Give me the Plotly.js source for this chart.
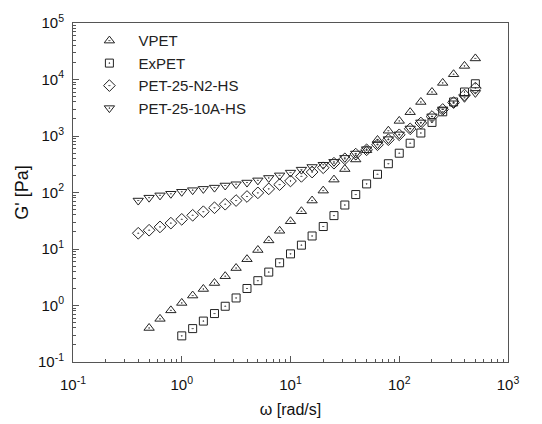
<!DOCTYPE html>
<html>
<head>
<meta charset="utf-8">
<script src="https://cdn.plot.ly/plotly-3.0.1.min.js"></script>
<style>html,body{margin:0;padding:0;background:#fff;}#chart{width:542px;height:424px;}</style>
</head>
<body>
<div id="chart"></div>
<script>
// Angular frequency omega [rad/s]
const omegaAll = [0.398, 0.501, 0.631, 0.794, 1.0, 1.26, 1.58, 2.0, 2.51, 3.16, 3.98, 5.01, 6.31, 7.94, 10, 12.6, 15.8, 20, 25.1, 31.6, 39.8, 50.1, 63.1, 79.4, 100, 126, 158, 200, 251, 316, 398, 501];
const omegaVPET = [0.501, 0.631, 0.794, 1.0, 1.26, 1.58, 2.0, 2.51, 3.16, 3.98, 5.01, 6.31, 7.94, 10, 12.6, 15.8, 20, 25.1, 31.6, 39.8, 50.1, 63.1, 79.4, 100, 126, 158, 200, 251, 316, 398, 501];
const omegaExPET = [1.0, 1.26, 1.58, 2.0, 2.51, 3.16, 3.98, 5.01, 6.31, 7.94, 10, 12.6, 15.8, 20, 25.1, 31.6, 39.8, 50.1, 63.1, 79.4, 100, 126, 158, 200, 251, 316, 398, 501];

// Storage modulus G' [Pa]
const gVPET = [0.40, 0.58, 0.82, 1.11, 1.5, 1.96, 2.5, 3.3, 4.6, 6.6, 9.6, 14.2, 21, 31, 46.6, 72, 108, 169, 260, 384, 560, 850, 1240, 1850, 2640, 4000, 6000, 8700, 12400, 17400, 23600];
const gExPET = [0.29, 0.39, 0.53, 0.72, 0.97, 1.36, 2.0, 2.75, 3.9, 5.7, 8.2, 11.7, 17, 25, 39, 60, 92, 142, 210, 323, 496, 745, 1130, 1740, 2680, 4000, 6000, 8400];
const gN2HS = [19, 21.5, 24.6, 28.7, 33.5, 39.5, 45.7, 53.7, 62, 72, 85, 98.6, 116, 138, 160, 193, 230, 274, 330, 395, 478, 570, 700, 860, 1050, 1340, 1700, 2210, 2950, 3900, 5300, 7050];
const g10AHS = [72, 81, 89, 95, 103, 110, 116, 122, 133, 140, 150, 164, 181, 201, 225, 254, 283, 310, 349, 410, 490, 585, 715, 880, 1070, 1360, 1740, 2230, 2960, 3800, 4750, 5800];

const seriesNames = ["VPET", "ExPET", "PET-25-N2-HS", "PET-25-10A-HS"];

const xTickVals = [0.1, 1, 10, 100, 1000];
const xTickText = ["10<sup>-1</sup>", "10<sup>0</sup>", "10<sup>1</sup>", "10<sup>2</sup>", "10<sup>3</sup>"];
const yTickVals = [0.1, 1, 10, 100, 1000, 10000, 100000];
const yTickText = ["10<sup>-1</sup>", "10<sup>0</sup>", "10<sup>1</sup>", "10<sup>2</sup>", "10<sup>3</sup>", "10<sup>4</sup>", "10<sup>5</sup>"];

const FONT = "Arial, 'Liberation Sans', sans-serif";
const mk = (sym, size) => ({symbol: sym, size: size, color: "#222", line: {color: "#222", width: 1}});

const traces = [
  {x: omegaVPET, y: gVPET, name: seriesNames[0], mode: "markers", type: "scatter", marker: mk("triangle-up-open-dot", 9)},
  {x: omegaExPET, y: gExPET, name: seriesNames[1], mode: "markers", type: "scatter", marker: mk("square-open-dot", 8)},
  {x: omegaAll, y: gN2HS, name: seriesNames[2], mode: "markers", type: "scatter", marker: mk("diamond-open-dot", 9)},
  {x: omegaAll, y: g10AHS, name: seriesNames[3], mode: "markers", type: "scatter", marker: mk("triangle-down-open-dot", 9)}
];

const axisCommon = {
  type: "log",
  showgrid: false,
  zeroline: false,
  showline: true,
  linecolor: "#555",
  linewidth: 1,
  mirror: true,
  ticks: "inside",
  ticklen: 6,
  tickcolor: "#555",
  tickmode: "array",
  tickfont: {family: FONT, size: 15, color: "#111"},
  minor: {ticks: "inside", ticklen: 3, tickcolor: "#555", dtick: "D1", showgrid: false}
};

const layout = {
  width: 542,
  height: 424,
  margin: {l: 73, r: 34, t: 20, b: 62},
  paper_bgcolor: "#fff",
  plot_bgcolor: "#fff",
  font: {family: FONT, color: "#111"},
  showlegend: true,
  legend: {
    x: 0.017, y: 0.996, xanchor: "left", yanchor: "top",
    bgcolor: "rgba(0,0,0,0)", borderwidth: 0,
    font: {family: FONT, size: 15, color: "#222"},
    itemwidth: 48
  },
  xaxis: Object.assign({}, axisCommon, {
    range: [-1, 3],
    tickvals: xTickVals, ticktext: xTickText,
    ticklabelstandoff: 9,
    title: {text: "\u03c9 [rad/s]", font: {family: FONT, size: 16, color: "#111"}, standoff: 11}
  }),
  yaxis: Object.assign({}, axisCommon, {
    range: [-1, 5],
    automargin: true,
    tickvals: yTickVals, ticktext: yTickText,
    ticklabelstandoff: 5,
    title: {text: "G' [Pa]", font: {family: FONT, size: 18, color: "#111"}, standoff: 4}
  })
};

Plotly.newPlot("chart", traces, layout, {displayModeBar: false, staticPlot: true});
</script>
</body>
</html>
